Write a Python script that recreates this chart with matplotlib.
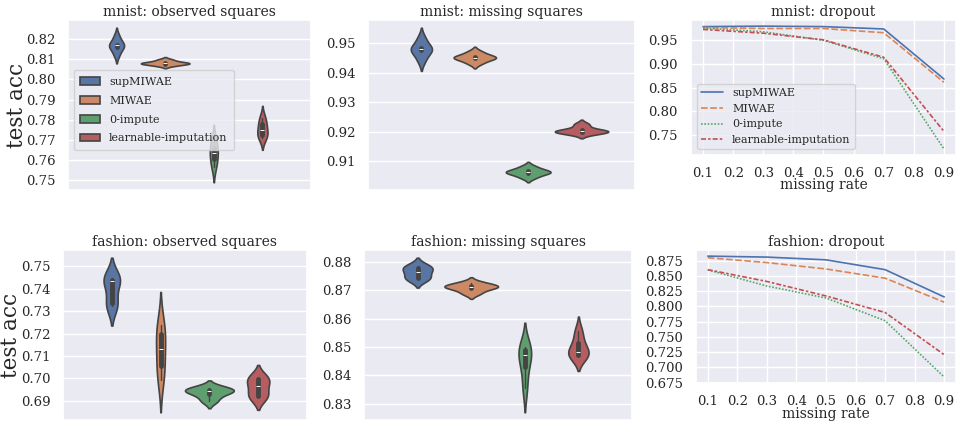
import numpy as np
import pandas as pd
import matplotlib
matplotlib.use("Agg")
import matplotlib.pyplot as plt
from matplotlib.ticker import MultipleLocator
import seaborn as sns

# ==============================
# DATA
# ==============================
models = ["supMIWAE", "MIWAE", "0-impute", "learnable-imputation"]

# per-run test accuracies
mnist_obs = {
    "supMIWAE": [0.8125, 0.8163, 0.8169, 0.8173, 0.8212],
    "MIWAE": [0.8070, 0.8079, 0.8081, 0.8083, 0.8097],
    "0-impute": [0.7565, 0.7605, 0.7636, 0.7662, 0.7700],
    "learnable-imputation": [0.7710, 0.7725, 0.7749, 0.7780, 0.7810],
}
mnist_miss = {
    "supMIWAE": [0.9444, 0.9476, 0.9480, 0.9484, 0.9516],
    "MIWAE": [0.9434, 0.9450, 0.9452, 0.9454, 0.9470],
    "0-impute": [0.9047, 0.9062, 0.9064, 0.9066, 0.9081],
    "learnable-imputation": [0.9195, 0.9201, 0.9203, 0.9205, 0.9225],
}
fashion_obs = {
    "supMIWAE": [0.7325, 0.7335, 0.7434, 0.7440, 0.7450],
    "MIWAE": [0.6995, 0.7055, 0.7133, 0.7199, 0.7240],
    "0-impute": [0.6900, 0.6930, 0.6944, 0.6950, 0.6958],
    "learnable-imputation": [0.6918, 0.6922, 0.6966, 0.6998, 0.7002],
}
fashion_miss = {
    "supMIWAE": [0.8740, 0.8745, 0.8767, 0.8780, 0.8786],
    "MIWAE": [0.8690, 0.8708, 0.8713, 0.8716, 0.8727],
    "0-impute": [0.8355, 0.8429, 0.8471, 0.8490, 0.8500],
    "learnable-imputation": [0.8468, 0.8472, 0.8483, 0.8513, 0.8555],
}

# dropout curves
missing_rate = [0.1, 0.3, 0.5, 0.7, 0.9]
mnist_drop = {
    "supMIWAE": [0.979, 0.980, 0.979, 0.974, 0.868],
    "MIWAE": [0.977, 0.975, 0.975, 0.966, 0.861],
    "0-impute": [0.976, 0.968, 0.950, 0.911, 0.720],
    "learnable-imputation": [0.973, 0.965, 0.951, 0.914, 0.757],
}
fashion_drop = {
    "supMIWAE": [0.8826, 0.8810, 0.8765, 0.8604, 0.8156],
    "MIWAE": [0.8800, 0.8720, 0.8615, 0.8464, 0.8070],
    "0-impute": [0.8600, 0.8335, 0.8139, 0.7766, 0.6841],
    "learnable-imputation": [0.8604, 0.8410, 0.8172, 0.7901, 0.7208],
}

# ==============================
# STYLE
# ==============================
sns.set_theme(style="darkgrid")
plt.rcParams["font.family"] = ["DejaVu Serif"]
palette = sns.color_palette("deep", 4)
dashes = ["", (4, 1.5), (1, 1), (3, 1.25, 1.5, 1.25)]

fig = plt.figure(figsize=(9.56, 4.21), dpi=100)
axes = {
    "mo": fig.add_axes([0.0711, 0.5487, 0.2542, 0.4038]),
    "mm": fig.add_axes([0.3849, 0.5487, 0.2793, 0.4038]),
    "md": fig.add_axes([0.7228, 0.6318, 0.2772, 0.3207]),
    "fo": fig.add_axes([0.0659, 0.0024, 0.2552, 0.4038]),
    "fm": fig.add_axes([0.3808, 0.0024, 0.2803, 0.4038]),
    "fd": fig.add_axes([0.7280, 0.0900, 0.2720, 0.3160]),
}


def violin(ax, data, title, legend=False):
    rows = [(m, v) for m in models for v in data[m]]
    df = pd.DataFrame(rows, columns=["model", "acc"])
    df["setting"] = "all"
    sns.violinplot(data=df, x="setting", y="acc", hue="model", hue_order=models,
                   palette=palette, ax=ax, inner="box", cut=2,
                   density_norm="area", common_norm=True,
                   inner_kws=dict(box_width=3.5, whis_width=1.0, markersize=3),
                   linecolor="#444444", linewidth=1.2, legend=legend)
    ax.set_xticks([])
    ax.set_xlabel("")
    ax.set_ylabel("")
    ax.yaxis.set_major_locator(MultipleLocator(0.01))
    ax.set_title(title, fontsize=10, pad=3)
    ax.tick_params(axis="y", labelsize=9.5, pad=3)


def dropout(ax, data, title, step, legend=False):
    for i, m in enumerate(models):
        ax.plot(missing_rate, data[m], color=palette[i], lw=1.2,
                dashes=dashes[i], label=m)
    ax.set_xticks(np.arange(0.1, 0.91, 0.1))
    ax.yaxis.set_major_locator(MultipleLocator(step))
    ax.set_xlabel("missing rate", fontsize=10, labelpad=-1)
    ax.set_title(title, fontsize=10, pad=3)
    ax.tick_params(axis="y", labelsize=9.5, pad=3.5)
    ax.tick_params(axis="x", labelsize=9.5, pad=2.5)
    if legend:
        ax.legend(loc="lower left", fontsize=8)


violin(axes["mo"], mnist_obs, "mnist: observed squares", legend=True)
sns.move_legend(axes["mo"], "center left", bbox_to_anchor=(0.0, 0.47),
                title=None, fontsize=8, labelspacing=0.8, borderpad=0.6,
                handlelength=1.8)
violin(axes["mm"], mnist_miss, "mnist: missing squares")
dropout(axes["md"], mnist_drop, "mnist: dropout", 0.05, legend=True)
violin(axes["fo"], fashion_obs, "fashion: observed squares")
violin(axes["fm"], fashion_miss, "fashion: missing squares")
dropout(axes["fd"], fashion_drop, "fashion: dropout", 0.025)

axes["mo"].set_ylabel("test acc", fontsize=15.5)
axes["mo"].yaxis.set_label_coords(-0.165, 0.5)
axes["fo"].set_ylabel("test acc", fontsize=15.5)
axes["fo"].yaxis.set_label_coords(-0.168, 0.5)

fig.savefig("out.png", dpi=100)
